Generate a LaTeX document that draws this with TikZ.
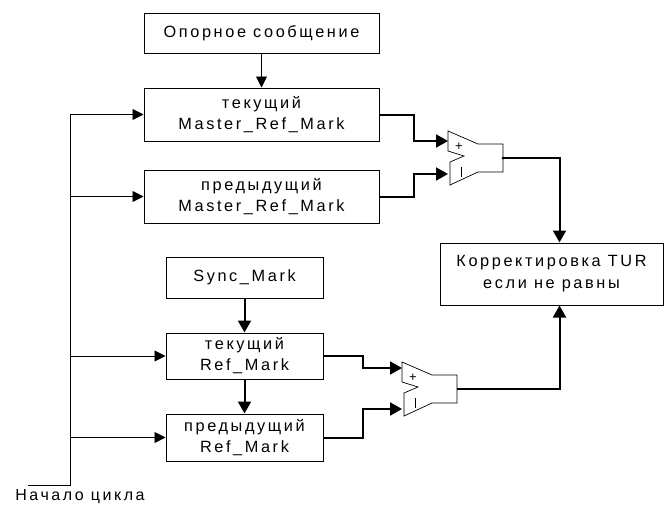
\documentclass[tikz,border=0pt]{standalone}
\usepackage{fontspec}
\setmainfont{Liberation Sans}[LetterSpace=16]
\usetikzlibrary{arrows.meta}
\begin{document}
\begin{tikzpicture}[x=1pt,y=-1pt,
  blk/.style={draw,line width=1pt,inner sep=0pt,align=center,font=\fontsize{16.3}{21}\selectfont},
  thinline/.style={line width=0.9pt},
  thinarr/.style={line width=0.9pt,-{Triangle[length=11pt,width=11pt]}},
  thickarr/.style={line width=2pt,-{Triangle[length=12pt,width=13pt]}},
  cmpline/.style={line width=0.7pt},
  cmp/.pic={
    \draw[cmpline] (0,0) -- (0,20) -- (16,25) -- (2,31) -- (2,54) -- (30,41) -- (55,41) -- (55,13) -- (30,13) -- cycle;
    \node[font=\fontsize{13}{13}\selectfont,inner sep=0pt] at (11,16) {+};
    \draw[cmpline] (13,36) -- (13,46);
    \coordinate (-o) at (55,27);
  }]
\useasboundingbox (0,0) rectangle (665,507);
% boxes
\node[blk,minimum width=235pt,minimum height=40pt] (op) at (261.5,33) {Опорное сообщение};
\node[blk,minimum width=235pt,minimum height=53pt] (m1) at (261.5,114.5) {текущий\\Master\_Ref\_Mark};
\node[blk,minimum width=235pt,minimum height=53pt] (m2) at (261.5,196.5) {предыдущий\\Master\_Ref\_Mark};
\node[blk,minimum width=157pt,minimum height=41pt] (sync) at (244.5,277.5) {Sync\_Mark};
\node[blk,minimum width=157pt,minimum height=46pt] (r1) at (244.5,356) {текущий\\Ref\_Mark};
\node[blk,minimum width=157pt,minimum height=47pt] (r2) at (244.5,437.5) {предыдущий\\Ref\_Mark};
\node[blk,minimum width=223pt,minimum height=62pt,font=\fontsize{16.3}{22}\selectfont] (corr) at (551.5,274) {Корректировка TUR\\если не равны};
% comparators
\pic (c1) at (448,131) {cmp};
\pic (c2) at (402,362) {cmp};
\coordinate (c1p) at (448,141);
\coordinate (c1m) at (448,174);
\coordinate (c2p) at (402,368);
\coordinate (c2m) at (402,409);
% bus
\coordinate (bt) at (70,114.5);
\coordinate (bb) at (70,485);
\coordinate (be) at (28,485);
\draw[thinline] (bt) -- (bb) -- (be);
\node[font=\fontsize{16}{18}\selectfont,inner sep=0pt] (start) at (80,497) {Начало цикла};
\draw[thinarr] (bt) -- (m1.west);
\draw[thinarr] (m2.west -| bt) -- (m2.west);
\draw[thinarr] (r1.west -| bt) -- (r1.west);
\draw[thinarr] (r2.west -| bt) -- (r2.west);
% vertical arrows
\draw[thinarr] (op.south) -- (m1.north);
\draw[thickarr] (sync.south) -- (r1.north);
\draw[thickarr] (r1.south) -- (r2.north);
% to comparators
\draw[thickarr] (m1.east) -- ++(34,0) |- (c1p);
\draw[thickarr] (m2.east) -- ++(34,0) |- (c1m);
\draw[thickarr] (r1.east) -- ++(39,0) |- (c2p);
\draw[thickarr] (r2.east) -- ++(39,0) |- (c2m);
% outputs
\draw[thickarr] (c1-o) -| ([xshift=8pt]corr.north);
\draw[thickarr] (c2-o) -| ([xshift=8pt]corr.south);
\fill (c1-o) circle (1.5pt);
\end{tikzpicture}
\end{document}
